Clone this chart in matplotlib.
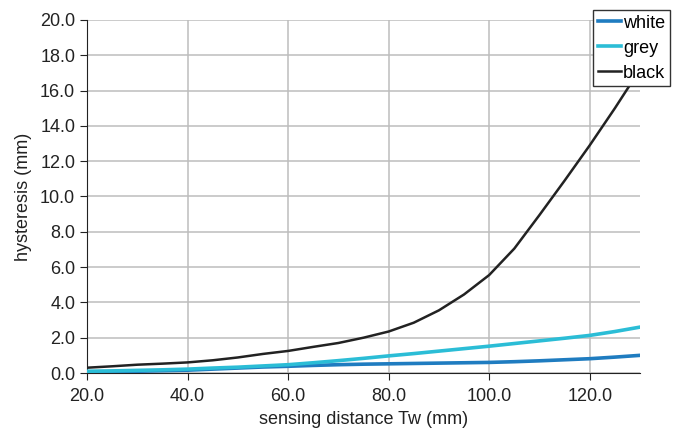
import numpy as np
import matplotlib.pyplot as plt

plt.rcParams['font.family'] = ['Liberation Sans', 'DejaVu Sans']

# values
dist = [20, 25, 30, 35, 40, 45, 50, 55, 60, 65, 70, 75, 80, 85, 90, 95, 100, 105, 110, 115, 120, 125, 130]
white = [0.05, 0.07, 0.1, 0.13, 0.16, 0.22, 0.28, 0.34, 0.38, 0.43, 0.47, 0.5, 0.52, 0.54, 0.56, 0.58,
         0.6, 0.64, 0.69, 0.75, 0.81, 0.9, 1.0]
grey = [0.1, 0.12, 0.15, 0.18, 0.22, 0.28, 0.33, 0.4, 0.47, 0.58, 0.7, 0.83, 0.97, 1.1, 1.24, 1.38,
        1.52, 1.67, 1.82, 1.97, 2.13, 2.35, 2.6]
black = [0.3, 0.38, 0.47, 0.53, 0.6, 0.72, 0.88, 1.08, 1.25, 1.48, 1.7, 2.0, 2.35, 2.85, 3.55, 4.45,
         5.55, 7.05, 8.95, 10.9, 12.9, 15.0, 17.2]

fig = plt.figure(figsize=(6.83, 4.34), dpi=100)
ax = fig.add_axes([87/683, 1 - 373/434, 553/683, 353/434])

ax.plot(dist, white, color='#1f7cc0', lw=2.6, label='white', zorder=3)
ax.plot(dist, grey, color='#2bbdd6', lw=2.6, label='grey', zorder=3)
ax.plot(dist, black, color='#222222', lw=1.8, label='black', zorder=4)

ax.set_xlim(20, 130)
ax.set_ylim(0, 20)
ax.set_xticks(np.arange(20, 121, 20))
ax.set_yticks(np.arange(0, 20.1, 2))
ax.set_xticklabels(['%.1f' % v for v in np.arange(20, 121, 20)])
ax.set_yticklabels(['%.1f' % v for v in np.arange(0, 20.1, 2)])
ax.grid(True, color='#bdbdbd', lw=1.1)
ax.set_axisbelow(True)
for s in ['top', 'right']:
    ax.spines[s].set_visible(False)
ax.spines['left'].set_color('#222222')
ax.spines['bottom'].set_color('#222222')
ax.tick_params(labelsize=13, colors='#222222', length=5, direction='out')
ax.tick_params(axis='x', pad=6)

ax.set_xlabel('sensing distance Tw (mm)', fontsize=13, color='#222222', labelpad=4)
ax.set_ylabel('hysteresis (mm)', fontsize=13, color='#222222', labelpad=6)

leg = fig.legend(loc='upper right', bbox_to_anchor=(670/683, 1 - 10/434), fontsize=13,
                 handlelength=1.3, handletextpad=0.1, borderpad=0.25, labelspacing=0.45,
                 borderaxespad=0, fancybox=False, framealpha=1, edgecolor='#333333')
leg.get_frame().set_linewidth(1.0)

fig.savefig('out.png', dpi=100)
